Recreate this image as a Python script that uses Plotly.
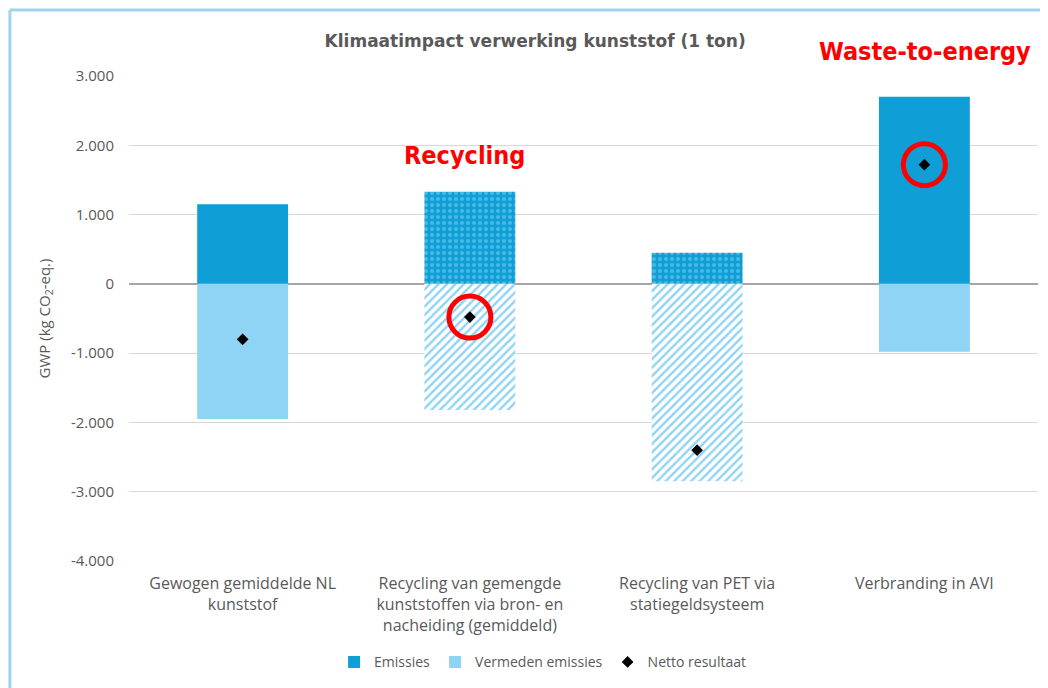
import plotly.graph_objects as go

# data (kg CO2-eq. per ton)
categories = [
    "Gewogen gemiddelde NL<br>kunststof",
    "Recycling van gemengde<br>kunststoffen via bron- en<br>nacheiding (gemiddeld)",
    "Recycling van PET via<br>statiegeldsysteem",
    "Verbranding in AVI",
]
emissies = [1150, 1330, 450, 2700]
vermeden = [-1950, -1820, -2850, -980]
netto = [-800, -480, -2400, 1720]
highlighted = [False, True, False, True]  # net points circled in red

y_ticks = [3000, 2000, 1000, 0, -1000, -2000, -3000, -4000]
y_tick_labels = ["3.000", "2.000", "1.000", "0", "-1.000", "-2.000", "-3.000", "-4.000"]

DARK = "#0f9fd6"
LIGHT = "#8fd3f5"
GREY = "#595959"
FONT = "Open Sans"
RED_FONT = "DejaVu Sans Condensed"

fig = go.Figure()

fig.add_trace(go.Bar(
    x=categories, y=emissies, name="Emissies", width=0.4,
    marker=dict(color=DARK, line=dict(width=0),
                pattern=dict(shape=["", ".", ".", ""], fgcolor="#7fd4f4",
                             size=6, solidity=0.35, fillmode="overlay")),
))
fig.add_trace(go.Bar(
    x=categories, y=vermeden, name="Vermeden emissies", width=0.4,
    marker=dict(color=LIGHT, line=dict(width=0),
                pattern=dict(shape=["", "/", "/", ""], fgcolor="#8fd3f5",
                             bgcolor="#ffffff", size=6, solidity=0.4,
                             fillmode="replace")),
))
fig.add_trace(go.Scatter(
    x=categories, y=netto, name="Netto resultaat", mode="markers",
    marker=dict(symbol="diamond", size=9, color="black"),
))
# red circles around the highlighted net results
fig.add_trace(go.Scatter(
    x=[c for c, h in zip(categories, highlighted) if h],
    y=[v for v, h in zip(netto, highlighted) if h],
    mode="markers", showlegend=False, hoverinfo="skip",
    marker=dict(symbol="circle-open", size=42, color="#ff0000",
                line=dict(width=5, color="#ff0000")),
))

fig.update_layout(
    barmode="relative",
    width=1048, height=688,
    margin=dict(l=121, r=18, t=68, b=135),
    paper_bgcolor="white", plot_bgcolor="white",
    font=dict(family=FONT, color=GREY, size=15),
    title=dict(text="<b>Klimaatimpact verwerking kunststof (1 ton)</b>",
               x=0.503, xanchor="center", y=0.952, yanchor="middle",
               font=dict(size=17, color=GREY, family="DejaVu Sans")),
    legend=dict(orientation="h", x=0.455, xanchor="center",
                yref="container", y=0.049, yanchor="middle",
                font=dict(size=14, color=GREY), itemwidth=30,
                traceorder="normal"),
    showlegend=True,
)

fig.update_xaxes(
    automargin=False, showgrid=False, showline=False, ticks="",
    tickfont=dict(size=16, color=GREY), ticklabelstandoff=11,
)
fig.update_yaxes(
    automargin=False,
    range=[-4000, 3000], tickvals=y_ticks, ticktext=y_tick_labels,
    showgrid=True, gridcolor="#d9d9d9", gridwidth=1,
    zeroline=True, zerolinecolor="#a6a6a6", zerolinewidth=2,
    tickfont=dict(size=15, color=GREY), ticks="", ticklabelstandoff=14,
    title=dict(text="GWP (kg CO<sub>2</sub>-eq.)", font=dict(size=15, color=GREY),
               standoff=16),
)

# red call-out labels
fig.add_annotation(text="<b>Recycling</b>", x=categories[1], y=1850,
                   xref="x", yref="y", showarrow=False, xshift=-5,
                   font=dict(size=25, color="#ff0000", family=RED_FONT))
fig.add_annotation(text="<b>Waste-to-energy</b>", x=0.876, y=1.085,
                   xref="paper", yref="paper", showarrow=False, xanchor="center",
                   font=dict(size=25, color="#ff0000", family=RED_FONT))

# light blue frame around the chart (partly cropped in the original)
fig.add_shape(type="line", xref="paper", yref="paper",
              x0=-0.131, x1=1.03, y0=1.136, y1=1.136,
              line=dict(color="#9fd4ea", width=3))
fig.add_shape(type="line", xref="paper", yref="paper",
              x0=-0.131, x1=-0.131, y0=1.136, y1=-0.3,
              line=dict(color="#9fd4ea", width=3))

fig.write_html("out.html")
